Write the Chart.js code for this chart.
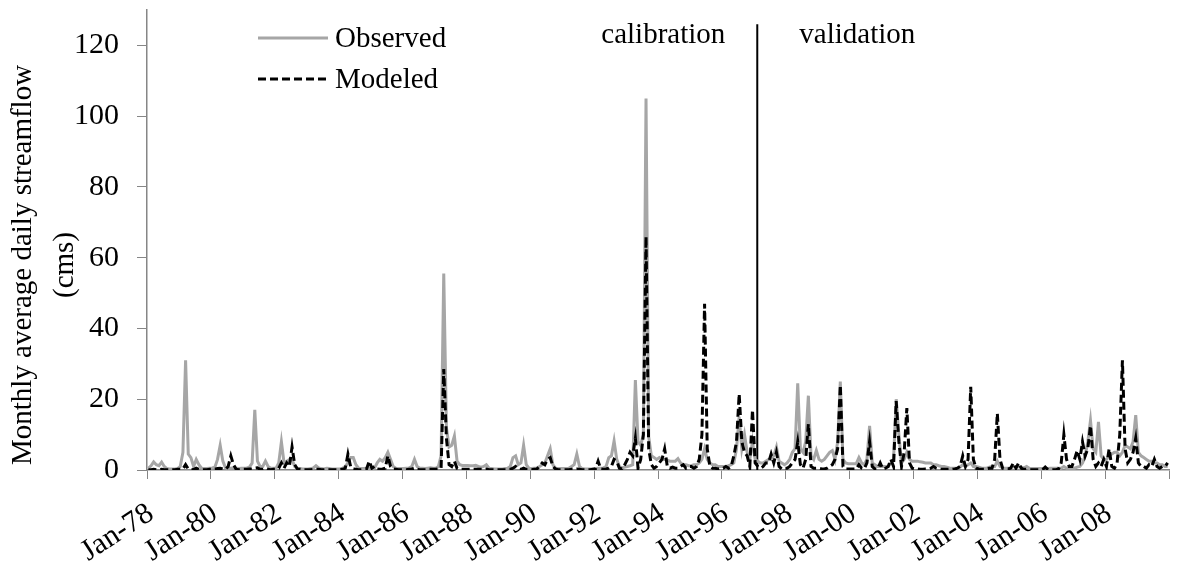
<!DOCTYPE html>
<html>
<head>
<meta charset="utf-8">
<title>Monthly average daily streamflow</title>
<script src="https://cdn.jsdelivr.net/npm/chart.js@4.4.1/dist/chart.umd.min.js"></script>
<style>
    html, body { margin: 0; padding: 0; background: #fff; }
    #wrap { width: 1177px; height: 563px; }
</style>
</head>
<body>
<div id="wrap"><canvas id="flowChart" width="1177" height="563"></canvas></div>
<script>
// Monthly values (cms), Jan-78 .. Dec-09, one row per year
const observed = [
    0.5, 1.2, 2.3, 1.5, 1.2, 2.2, 1.0, 0.4, 0.3, 0.3, 0.3, 0.4,   // 78
    1.0, 5.0, 31.0, 4.5, 3.5, 1.0, 3.0, 1.5, 0.5, 0.4, 0.4, 0.5,  // 79
    0.6, 0.8, 3.0, 7.0, 2.5, 0.6, 0.5, 0.5, 0.6, 0.5, 0.4, 0.5,   // 80
    0.5, 0.6, 0.8, 2.0, 17.0, 2.5, 1.0, 1.0, 2.5, 1.0, 0.5, 0.5,  // 81
    0.5, 2.0, 8.0, 2.0, 2.5, 3.0, 3.0, 1.0, 0.5, 0.4, 0.3, 0.3,   // 82
    0.3, 0.4, 0.6, 1.2, 0.6, 0.4, 0.3, 0.5, 0.4, 0.3, 0.3, 0.3,   // 83
    0.3, 0.5, 1.0, 2.0, 3.5, 3.5, 1.5, 0.5, 0.4, 0.4, 0.5, 0.5,   // 84
    0.5, 0.6, 2.0, 3.0, 2.5, 3.5, 5.0, 3.0, 1.0, 0.5, 0.4, 0.4,   // 85
    0.4, 0.5, 0.6, 1.0, 3.0, 1.0, 0.5, 0.5, 0.4, 0.5, 0.6, 0.5,   // 86
    0.5, 1.0, 4.0, 55.5, 12.0, 6.5, 7.0, 9.6, 2.5, 1.5, 1.3, 1.3, // 87
    1.3, 1.2, 1.2, 1.3, 1.0, 0.8, 1.0, 1.5, 0.5, 0.4, 0.3, 0.3,   // 88
    0.3, 0.3, 0.4, 0.5, 1.0, 3.5, 4.0, 1.5, 2.0, 7.0, 1.5, 0.5,   // 89
    0.4, 0.5, 0.6, 1.0, 1.5, 2.0, 4.0, 6.0, 1.5, 0.5, 0.4, 0.4,   // 90
    0.4, 0.4, 0.5, 1.0, 1.5, 4.5, 1.0, 0.4, 0.3, 0.3, 0.3, 0.3,   // 91
    0.4, 0.5, 0.5, 0.6, 1.0, 3.5, 4.0, 8.2, 3.0, 1.0, 0.6, 0.8,   // 92
    1.0, 1.2, 1.5, 25.4, 8.0, 7.0, 10.0, 105.0, 9.4, 4.0, 3.5, 3.0, // 93
    3.5, 3.0, 3.0, 2.8, 2.5, 2.5, 2.5, 3.2, 2.0, 1.5, 1.5, 1.2,   // 94
    1.2, 1.5, 1.5, 2.0, 3.0, 6.0, 3.0, 2.0, 1.5, 1.5, 1.0, 1.0,   // 95
    1.0, 1.0, 1.2, 1.5, 2.0, 6.0, 15.0, 6.0, 10.0, 5.0, 3.0, 8.0, // 96
    3.0, 2.5, 2.0, 2.0, 2.5, 3.0, 3.0, 4.0, 6.5, 2.5, 2.0, 1.5,   // 97
    2.0, 3.0, 5.0, 6.0, 24.5, 6.0, 5.0, 8.0, 21.0, 4.0, 3.0, 5.5, // 98
    3.0, 2.5, 3.0, 4.0, 5.0, 5.5, 3.0, 8.0, 25.0, 3.0, 2.0, 1.8,  // 99
    1.8, 1.8, 1.8, 3.5, 2.0, 1.5, 3.0, 12.5, 2.0, 1.5, 1.0, 1.0,  // 00
    1.0, 1.0, 1.0, 2.0, 3.0, 20.0, 10.0, 2.0, 3.0, 5.0, 3.0, 2.5, // 01
    2.5, 2.5, 2.3, 2.2, 2.0, 2.0, 2.0, 1.5, 1.5, 1.2, 1.0, 1.0,   // 02
    0.8, 0.6, 0.5, 0.5, 0.6, 0.8, 1.5, 1.0, 1.5, 2.0, 1.0, 1.0,   // 03
    0.8, 0.6, 0.5, 0.5, 0.8, 1.0, 1.0, 2.5, 1.0, 0.6, 0.5, 0.5,   // 04
    0.5, 1.0, 0.8, 1.0, 0.8, 0.6, 1.0, 0.5, 0.4, 0.4, 0.4, 0.4,   // 05
    0.4, 0.4, 0.4, 0.5, 0.5, 0.5, 0.5, 0.5, 1.0, 0.5, 0.5, 0.5,   // 06
    0.5, 0.8, 1.0, 2.0, 4.0, 8.0, 14.0, 6.0, 5.0, 13.6, 4.0, 3.0, // 07
    3.0, 4.0, 4.5, 5.0, 5.0, 4.0, 5.0, 7.0, 6.5, 6.0, 8.0, 15.5,  // 08
    5.0, 4.0, 3.5, 3.0, 2.5, 2.5, 2.0, 2.0, 1.5, 1.5, 1.0, 1.0    // 09
];

const modeled = [
    0.1, 0.1, 0.2, 0.1, 0.1, 0.2, 0.1, 0.1, 0.1, 0.1, 0.1, 0.2,   // 78
    0.2, 0.3, 1.5, 0.3, 0.2, 0.1, 0.5, 0.2, 0.1, 0.1, 0.1, 0.2,   // 79
    0.2, 0.2, 0.4, 0.5, 0.3, 0.2, 1.0, 4.0, 1.5, 0.2, 0.1, 0.2,   // 80
    0.2, 0.2, 0.3, 0.3, 0.5, 0.6, 0.2, 0.2, 0.5, 0.2, 0.1, 0.2,   // 81
    0.2, 0.5, 2.0, 0.5, 2.0, 1.0, 6.5, 1.5, 0.3, 0.2, 0.1, 0.1,   // 82
    0.1, 0.1, 0.2, 0.2, 0.2, 0.1, 0.1, 0.2, 0.1, 0.1, 0.1, 0.1,   // 83
    0.1, 0.2, 0.5, 4.5, 1.0, 0.3, 0.2, 0.1, 0.1, 0.2, 0.3, 2.5,   // 84
    0.5, 1.0, 0.3, 0.2, 0.3, 0.5, 4.0, 1.0, 0.3, 0.2, 0.1, 0.1,   // 85
    0.1, 0.1, 0.2, 0.3, 0.5, 0.2, 0.1, 0.1, 0.1, 0.2, 0.2, 0.2,   // 86
    0.2, 0.3, 0.5, 28.5, 9.0, 1.5, 1.0, 2.5, 0.5, 0.2, 0.2, 0.2,  // 87
    0.2, 0.2, 0.2, 0.2, 0.2, 0.2, 0.2, 0.3, 0.1, 0.1, 0.1, 0.1,   // 88
    0.1, 0.1, 0.1, 0.1, 0.2, 0.5, 1.0, 0.3, 0.2, 0.5, 0.2, 0.1,   // 89
    0.1, 0.2, 0.3, 1.0, 2.0, 1.5, 3.0, 3.5, 1.0, 0.3, 0.1, 0.1,   // 90
    0.1, 0.1, 0.1, 0.2, 0.2, 0.3, 0.2, 0.1, 0.1, 0.1, 0.1, 0.2,   // 91
    0.3, 2.5, 0.3, 0.2, 0.3, 0.5, 1.0, 3.0, 2.5, 0.5, 0.3, 1.5,   // 92
    3.0, 5.0, 4.0, 9.0, 0.5, 3.0, 10.0, 66.0, 6.0, 1.5, 0.5, 1.0, // 93
    2.0, 3.0, 6.0, 1.0, 0.5, 0.8, 0.5, 0.5, 1.0, 1.5, 0.5, 1.0,   // 94
    1.0, 0.5, 1.0, 3.0, 10.0, 47.0, 6.0, 1.0, 0.5, 0.5, 0.3, 0.5, // 95
    0.5, 1.0, 0.5, 1.0, 4.0, 8.0, 21.5, 8.0, 5.0, 4.0, 1.0, 17.0, // 96
    2.0, 1.0, 0.5, 1.0, 2.0, 2.0, 4.5, 2.0, 5.0, 1.0, 0.3, 0.5,   // 97
    0.5, 1.0, 2.0, 3.0, 8.0, 1.5, 0.5, 3.0, 13.0, 1.0, 0.5, 0.5,  // 98
    0.5, 0.3, 0.3, 0.5, 1.0, 1.5, 3.0, 6.0, 24.0, 1.0, 0.3, 0.3,  // 99
    0.3, 0.3, 0.3, 1.5, 0.5, 0.3, 2.0, 8.0, 1.0, 0.3, 0.3, 2.0,   // 00
    0.3, 0.5, 1.0, 3.0, 1.0, 19.5, 8.0, 1.0, 5.0, 17.5, 2.0, 0.5, // 01
    0.3, 0.3, 0.2, 0.2, 0.3, 0.3, 0.5, 1.0, 0.5, 0.3, 0.2, 0.2,   // 02
    0.2, 0.2, 0.2, 0.3, 0.5, 1.0, 4.0, 1.0, 3.0, 23.5, 3.0, 0.5,  // 03
    0.3, 0.2, 0.2, 0.3, 0.5, 0.5, 3.0, 16.0, 3.0, 0.5, 0.3, 0.3,  // 04
    0.5, 2.0, 0.5, 2.0, 0.5, 0.2, 0.2, 0.1, 0.1, 0.1, 0.1, 0.1,   // 05
    0.1, 0.8, 0.1, 0.1, 0.1, 0.1, 0.3, 2.0, 10.0, 3.0, 1.0, 1.0,  // 06
    3.0, 5.5, 3.0, 8.0, 4.0, 6.0, 12.5, 3.0, 1.0, 2.0, 1.0, 3.0,  // 07
    1.0, 6.0, 1.0, 0.5, 2.0, 10.0, 31.0, 6.0, 2.0, 3.0, 5.0, 9.0, // 08
    2.0, 1.0, 1.0, 0.5, 1.5, 1.0, 3.0, 1.0, 0.5, 1.0, 1.0, 2.0    // 09
];

// x axis runs in months since Jan-78, a tick every 24 months
const tickLabels = ['Jan-78', 'Jan-80', 'Jan-82', 'Jan-84', 'Jan-86', 'Jan-88', 'Jan-90', 'Jan-92',
    'Jan-94', 'Jan-96', 'Jan-98', 'Jan-00', 'Jan-02', 'Jan-04', 'Jan-06', 'Jan-08', ''];
const yTicks = [0, 20, 40, 60, 80, 100, 120];
const yTitle = ['Monthly average daily streamflow', '(cms)'];

// calibration / validation split (months since Jan-78) and how high the line goes
const splitAt = 229.3;
const splitTop = 126;

const SERIF = "'Liberation Serif', 'Times New Roman', serif";
const GRAY = '#a6a6a6';
const AXIS = '#868686';

Chart.defaults.font.family = SERIF;
Chart.defaults.color = '#000';

// each month sits in the middle of its slot
const toPoints = arr => arr.map((v, i) => ({ x: i + 0.5, y: v }));

// --- axis title, legend and period labels ---
const labelsPlugin = {
    id: 'labels',
    afterDraw(chart) {
        const ctx = chart.ctx;
        ctx.save();
        ctx.font = `29px ${SERIF}`;
        ctx.fillStyle = '#000';

        // y axis title, two rotated lines
        ctx.save();
        ctx.textAlign = 'center';
        ctx.textBaseline = 'middle';
        yTitle.forEach((line, i) => {
            ctx.save();
            ctx.translate(23 + i * 42, 265);
            ctx.rotate(-Math.PI / 2);
            ctx.fillText(line, 0, 0);
            ctx.restore();
        });
        ctx.restore();

        ctx.textBaseline = 'alphabetic';

        // legend
        ctx.lineWidth = 3;
        ctx.strokeStyle = GRAY;
        ctx.beginPath(); ctx.moveTo(258, 38); ctx.lineTo(328, 38); ctx.stroke();
        ctx.fillText('Observed', 335, 47);

        ctx.strokeStyle = '#000';
        ctx.setLineDash([8, 4]);
        ctx.beginPath(); ctx.moveTo(258, 79); ctx.lineTo(328, 79); ctx.stroke();
        ctx.setLineDash([]);
        ctx.fillText('Modeled', 335, 88);

        // period names either side of the split line
        const xs = chart.scales.x.getPixelForValue(splitAt);
        ctx.textAlign = 'right';
        ctx.fillText('calibration', xs - 32, 43);
        ctx.textAlign = 'left';
        ctx.fillText('validation', xs + 42, 43);
        ctx.restore();
    }
};

// keep the plot box where the reference has it (no extra room for tick labels)
const noPad = s => { s.paddingTop = 0; s.paddingBottom = 0; s.paddingLeft = 0; s.paddingRight = 0; };

const ctx = document.getElementById('flowChart').getContext('2d');

new Chart(ctx, {
    type: 'line',
    data: {
        datasets: [
            {
                label: 'Modeled',
                data: toPoints(modeled),
                borderColor: '#000',
                borderWidth: 3,
                borderDash: [8, 4],
                pointRadius: 0,
                tension: 0,
                order: 0
            },
            {
                label: 'Observed',
                data: toPoints(observed),
                borderColor: GRAY,
                borderWidth: 3,
                pointRadius: 0,
                tension: 0,
                order: 1
            },
            {
                label: 'split',
                data: [{ x: splitAt, y: 0 }, { x: splitAt, y: splitTop }],
                borderColor: '#000',
                borderWidth: 2,
                pointRadius: 0,
                order: 2
            }
        ]
    },
    options: {
        responsive: false,
        animation: false,
        devicePixelRatio: 1,
        layout: { padding: { top: 10, right: 8, left: 0, bottom: 0 } },
        plugins: {
            legend: { display: false },
            tooltip: { enabled: false }
        },
        scales: {
            x: {
                type: 'linear',
                min: 0,
                max: 384,
                afterBuildTicks: s => { s.ticks = tickLabels.map((_, i) => ({ value: i * 24 })); },
                afterFit: s => { s.height = 93; noPad(s); },
                grid: { drawOnChartArea: false, drawTicks: true, tickLength: 9, color: AXIS },
                border: { display: true, color: AXIS, width: 1.5 },
                ticks: {
                    autoSkip: false,
                    minRotation: 33,
                    maxRotation: 33,
                    padding: 17,
                    labelOffset: 4,
                    font: { size: 30 },
                    callback: (v, i) => tickLabels[i]
                }
            },
            y: {
                min: 0,
                max: 130,
                afterBuildTicks: s => { s.ticks = yTicks.map(v => ({ value: v })); },
                afterFit: s => { s.width = 147; noPad(s); },
                grid: { drawOnChartArea: false, drawTicks: true, tickLength: 10, color: AXIS },
                border: { display: true, color: AXIS, width: 1.5 },
                ticks: { padding: 18, font: { size: 30 } }
            }
        }
    },
    plugins: [labelsPlugin]
});
</script>
</body>
</html>
